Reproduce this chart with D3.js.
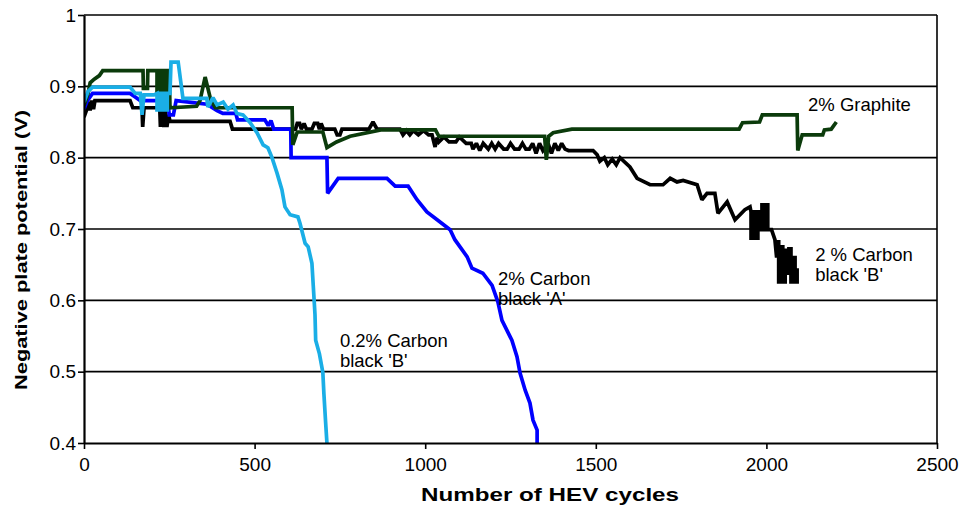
<!DOCTYPE html>
<html>
<head>
<meta charset="utf-8">
<script src="https://cdn.jsdelivr.net/npm/d3@7"></script>
<style>
  html, body { margin: 0; padding: 0; background: #fff; }
  svg { display: block; }
  text { font-family: Arial, "Liberation Sans", Helvetica, sans-serif; fill: #000; }
</style>
</head>
<body>
<svg id="chart" width="966" height="511"></svg>
<script>
// ---------- data (cycles, volts) ----------
const xTicks = [0, 500, 1000, 1500, 2000, 2500];
const yTicks = [0.4, 0.5, 0.6, 0.7, 0.8, 0.9, 1];

const graphite = [
  [0,0.873],[12,0.89],[18,0.905],[30,0.91],[45,0.915],[55,0.922],[173,0.922],[174,0.897],
  [186,0.897],[187,0.922],[214,0.922],[214,0.893],[220,0.893],[220,0.922],[226,0.922],[226,0.893],
  [232,0.893],[232,0.922],[238,0.922],[238,0.893],[244,0.893],[244,0.922],[250,0.922],[252,0.87],
  [330,0.872],[340,0.88],[355,0.913],[372,0.88],[385,0.87],[610,0.87],[612,0.818],[625,0.836],
  [700,0.836],[712,0.814],[740,0.822],[780,0.83],[870,0.839],[1030,0.839],[1040,0.83],[1350,0.83],
  [1355,0.797],[1362,0.83],[1375,0.835],[1430,0.84],[1920,0.84],[1930,0.849],[1980,0.85],[1988,0.86],
  [2090,0.86],[2092,0.81],[2105,0.832],[2165,0.832],[2170,0.839],[2190,0.84],[2205,0.85]
];

const carbonB2 = [
  [0,0.857],[10,0.87],[15,0.878],[18,0.866],[22,0.88],[28,0.868],[32,0.88],[135,0.88],[143,0.87],
  [170,0.87],[172,0.843],[176,0.87],[222,0.87],[224,0.843],[228,0.87],[234,0.843],[238,0.87],
  [243,0.843],[248,0.86],[252,0.851],[428,0.851],[435,0.84],[620,0.84],[625,0.848],[632,0.848],
  [637,0.84],[645,0.848],[652,0.84],[668,0.84],[675,0.848],[685,0.848],[690,0.84],[695,0.848],
  [702,0.84],[735,0.84],[742,0.832],[750,0.832],[756,0.84],[835,0.84],[847,0.85],[859,0.84],
  [926,0.84],[935,0.832],[945,0.838],[955,0.832],[965,0.838],[980,0.832],[995,0.838],[1010,0.832],
  [1020,0.832],[1029,0.815],[1035,0.828],[1040,0.822],[1055,0.829],[1070,0.822],[1090,0.822],
  [1100,0.829],[1120,0.82],[1135,0.82],[1140,0.812],[1150,0.82],[1160,0.81],[1170,0.82],[1185,0.812],
  [1195,0.82],[1205,0.812],[1215,0.82],[1230,0.812],[1240,0.812],[1250,0.82],[1262,0.812],
  [1275,0.812],[1285,0.82],[1295,0.812],[1305,0.812],[1315,0.82],[1325,0.806],[1335,0.82],
  [1345,0.81],[1360,0.82],[1370,0.806],[1380,0.82],[1390,0.81],[1400,0.82],[1410,0.812],
  [1420,0.81],[1492,0.81],[1504,0.804],[1512,0.795],[1525,0.8],[1535,0.79],[1548,0.798],
  [1560,0.79],[1571,0.8],[1600,0.787],[1621,0.771],[1659,0.762],[1697,0.762],[1718,0.771],
  [1738,0.766],[1756,0.768],[1797,0.762],[1811,0.741],[1826,0.75],[1849,0.75],[1858,0.722],
  [1885,0.738],[1908,0.713],[1937,0.727],[1952,0.731],
  [1955,0.724],[1955,0.687],[1962,0.687],[1962,0.724],[1968,0.724],[1968,0.687],[1975,0.687],
  [1975,0.724],[1981,0.724],[1981,0.699],[1987,0.699],[1987,0.734],[1993,0.734],[1993,0.699],
  [1999,0.699],[1999,0.734],[2004,0.734],[2004,0.699],[2015,0.699],[2025,0.685],
  [2030,0.66],[2030,0.682],[2036,0.682],[2036,0.626],[2042,0.626],[2042,0.675],[2048,0.675],
  [2048,0.626],[2055,0.626],[2055,0.67],[2060,0.67],[2060,0.638],[2066,0.638],[2066,0.672],
  [2072,0.672],[2072,0.626],[2078,0.626],[2078,0.66],[2084,0.66],[2084,0.626],[2090,0.626],[2090,0.645]
];

const carbonA2 = [
  [0,0.868],[10,0.88],[25,0.89],[135,0.89],[150,0.885],[165,0.88],[245,0.88],[250,0.86],
  [262,0.86],[270,0.88],[360,0.875],[390,0.866],[407,0.862],[445,0.862],[450,0.853],[530,0.853],
  [540,0.845],[548,0.852],[556,0.84],[606,0.84],[607,0.8],[712,0.8],[714,0.75],[745,0.771],
  [888,0.771],[912,0.76],[950,0.76],[976,0.741],[1005,0.724],[1035,0.713],[1073,0.699],
  [1087,0.685],[1123,0.661],[1137,0.645],[1169,0.638],[1196,0.621],[1213,0.598],[1225,0.572],
  [1254,0.544],[1269,0.521],[1278,0.498],[1293,0.474],[1307,0.456],[1316,0.432],[1328,0.418],[1328,0.4]
];

const carbonB02 = [
  [0,0.878],[12,0.893],[25,0.899],[135,0.899],[150,0.89],[165,0.89],[170,0.86],[176,0.888],
  [205,0.888],[214,0.89],[214,0.867],[220,0.867],[220,0.89],[226,0.89],[226,0.867],[232,0.867],
  [232,0.89],[238,0.89],[238,0.867],[244,0.867],[244,0.89],[252,0.89],[255,0.934],[276,0.934],
  [290,0.883],[360,0.883],[363,0.871],[378,0.884],[390,0.874],[408,0.878],[422,0.868],[437,0.874],
  [448,0.862],[466,0.86],[487,0.849],[507,0.835],[525,0.818],[539,0.814],[551,0.8],[566,0.778],
  [580,0.755],[589,0.731],[604,0.72],[627,0.717],[633,0.708],[648,0.68],[657,0.675],[668,0.652],
  [672,0.62],[677,0.58],[679,0.544],[690,0.525],[700,0.499],[703,0.47],[708,0.43],[712,0.4]
];

const seriesNames = ["2 % Carbon black 'B'", "2% Carbon black 'A'", "2% Graphite", "0.2% Carbon black 'B'"];
const seriesData = [carbonB2, carbonA2, graphite, carbonB02];
const seriesColors = ["#000000", "#0000ff", "#0b3b0b", "#1aaee6"];

// annotation text lines, anchored in data units (cycles, volts at baseline)
const annotations = [
  { lines: ["2% Graphite"], at: [2122, 0.865] },
  { lines: ["2 % Carbon", "black 'B'"], at: [2143, 0.655] },
  { lines: ["2% Carbon", "black 'A'"], at: [1213, 0.6215] },
  { lines: ["0.2% Carbon", "black 'B'"], at: [750, 0.5346] }
];

const xTitle = "Number of HEV cycles";
const yTitle = "Negative plate potential (V)";

// ---------- drawing ----------
const svg = d3.select("#chart");
const plot = { left: 84, right: 937, top: 15, bottom: 443 };

const x = d3.scaleLinear().domain([0, 2500]).range([plot.left, plot.right]);
const y = d3.scaleLinear().domain([0.4, 1]).range([plot.bottom, plot.top]);

// gridlines
svg.append("g").selectAll("line")
  .data(yTicks.filter(d => d > 0.4))
  .join("line")
  .attr("x1", plot.left).attr("x2", plot.right)
  .attr("y1", d => y(d)).attr("y2", d => y(d))
  .attr("stroke", "#000").attr("stroke-width", 1.6);

// right border
svg.append("line")
  .attr("x1", plot.right).attr("x2", plot.right)
  .attr("y1", plot.top).attr("y2", plot.bottom)
  .attr("stroke", "#000").attr("stroke-width", 1.6);

// series
const line = d3.line().x(d => x(d[0])).y(d => y(d[1]));
svg.append("clipPath").attr("id", "clip").append("rect")
  .attr("x", plot.left).attr("y", plot.top - 2)
  .attr("width", plot.right - plot.left).attr("height", plot.bottom - plot.top + 2);

svg.append("g").attr("clip-path", "url(#clip)")
  .selectAll("path")
  .data(seriesData)
  .join("path")
  .attr("d", d => line(d))
  .attr("fill", "none")
  .attr("stroke", (d, i) => seriesColors[i])
  .attr("stroke-width", 3.7)
  .attr("stroke-linejoin", "miter")
  .attr("stroke-miterlimit", 2);

// axes
const yAxis = d3.axisLeft(y).tickValues(yTicks).tickSize(6).tickSizeOuter(0).tickPadding(2)
  .tickFormat(d => d === 1 ? "1" : d3.format(".1f")(d));
const xAxis = d3.axisBottom(x).tickValues(xTicks).tickSize(6).tickSizeOuter(0).tickPadding(9)
  .tickFormat(d3.format("d"));

const gy = svg.append("g").attr("transform", `translate(${plot.left},0)`).call(yAxis);
const gx = svg.append("g").attr("transform", `translate(0,${plot.bottom})`).call(xAxis);
[gx, gy].forEach(g => {
  g.select(".domain").attr("stroke", "#000").attr("stroke-width", 2.2);
  g.selectAll(".tick line").attr("stroke", "#000").attr("stroke-width", 1.6);
  g.selectAll(".tick text").attr("font-size", 19).attr("font-family", "Arial, 'Liberation Sans', sans-serif").attr("fill", "#000");
});

// annotations
annotations.forEach(a => {
  const t = svg.append("text")
    .attr("x", x(a.at[0])).attr("y", y(a.at[1]))
    .attr("font-size", 18.5);
  a.lines.forEach((l, i) => {
    t.append("tspan").attr("x", x(a.at[0])).attr("dy", i === 0 ? 0 : 20).text(l);
  });
});

// axis titles
svg.append("text")
  .attr("x", 550).attr("y", 501)
  .attr("text-anchor", "middle")
  .attr("font-weight", "bold").attr("font-size", 18)
  .attr("textLength", 258).attr("lengthAdjust", "spacingAndGlyphs")
  .text(xTitle);

svg.append("text")
  .attr("transform", "translate(27,250) rotate(-90)")
  .attr("text-anchor", "middle")
  .attr("font-weight", "bold").attr("font-size", 17)
  .attr("textLength", 280).attr("lengthAdjust", "spacingAndGlyphs")
  .text(yTitle);
</script>
</body>
</html>
